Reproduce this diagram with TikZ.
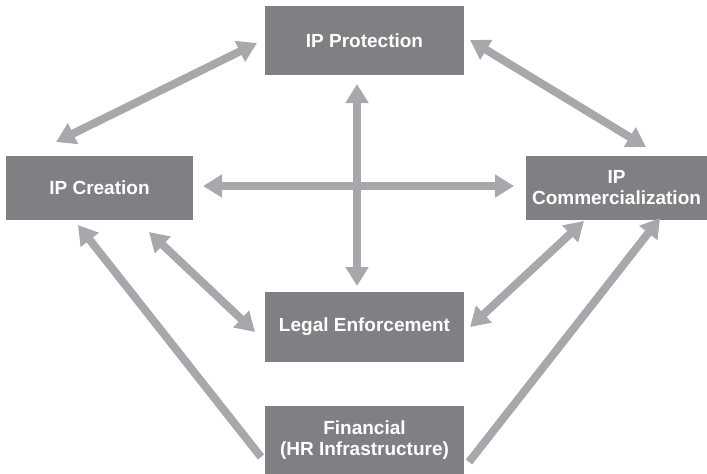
\documentclass[tikz,border=0pt]{standalone}
\usepackage{fontspec}
\setmainfont{Liberation Sans}
\usepackage{tikz}
\usetikzlibrary{arrows.meta, positioning}
\definecolor{boxgray}{HTML}{7F8084}
\definecolor{arrowgray}{HTML}{A7A8AB}

\begin{document}
\begin{tikzpicture}[
    x=1pt, y=-1pt,
    box/.style={rectangle, fill=boxgray, text=white, font=\fontsize{19}{21}\selectfont\bfseries, align=center, inner sep=0pt},
    link/.style={line width=8pt, color=arrowgray, {Triangle[length=19pt, width=22pt]}-{Triangle[length=19pt, width=22pt]}},
    feed/.style={line width=8pt, color=arrowgray, -{Triangle[length=19pt, width=22pt]}},
]

\useasboundingbox (0, 0) rectangle (707, 474);

% Boxes
\node[box, minimum width=199pt, minimum height=69pt] (prot) at (364.5, 40.5) {IP Protection};
\node[box, minimum width=187pt, minimum height=64pt] (crea) at (99.5, 188) {IP Creation};
\node[box, minimum width=181pt, minimum height=64pt] (comm) at (616.5, 188) {IP\\Commercialization};
\node[box, minimum width=199pt, minimum height=70pt] (legal) at (364.5, 327) {Legal Enforcement};
\node[box, minimum width=199pt, minimum height=68pt] (fin) at (364.5, 440) {Financial\\(HR Infrastructure)};

% Arrow ends
\coordinate (crea-up) at (56, 142);
\coordinate (prot-left) at (257, 43);
\coordinate (prot-right) at (470, 40);
\coordinate (comm-up) at (646, 147);
\coordinate (crea-right) at (203, 186);
\coordinate (comm-left) at (514, 186);
\coordinate (prot-down) at (357, 84);
\coordinate (legal-up) at (357, 286);
\coordinate (crea-low) at (149, 232);
\coordinate (legal-left) at (255, 332);
\coordinate (legal-right) at (470, 327);
\coordinate (comm-low) at (584, 221);
\coordinate (fin-left) at (261, 457);
\coordinate (crea-foot) at (78, 225);
\coordinate (fin-right) at (469, 462);
\coordinate (comm-foot) at (660, 218);

% Two-way links
\draw[link] (crea-up) -- (prot-left);
\draw[link] (prot-right) -- (comm-up);
\draw[link] (crea-right) -- (comm-left);
\draw[link] (prot-down) -- (legal-up);
\draw[link] (crea-low) -- (legal-left);
\draw[link] (legal-right) -- (comm-low);

% Financial support
\draw[feed] (fin-left) -- (crea-foot);
\draw[feed] (fin-right) -- (comm-foot);

\end{tikzpicture}
\end{document}
